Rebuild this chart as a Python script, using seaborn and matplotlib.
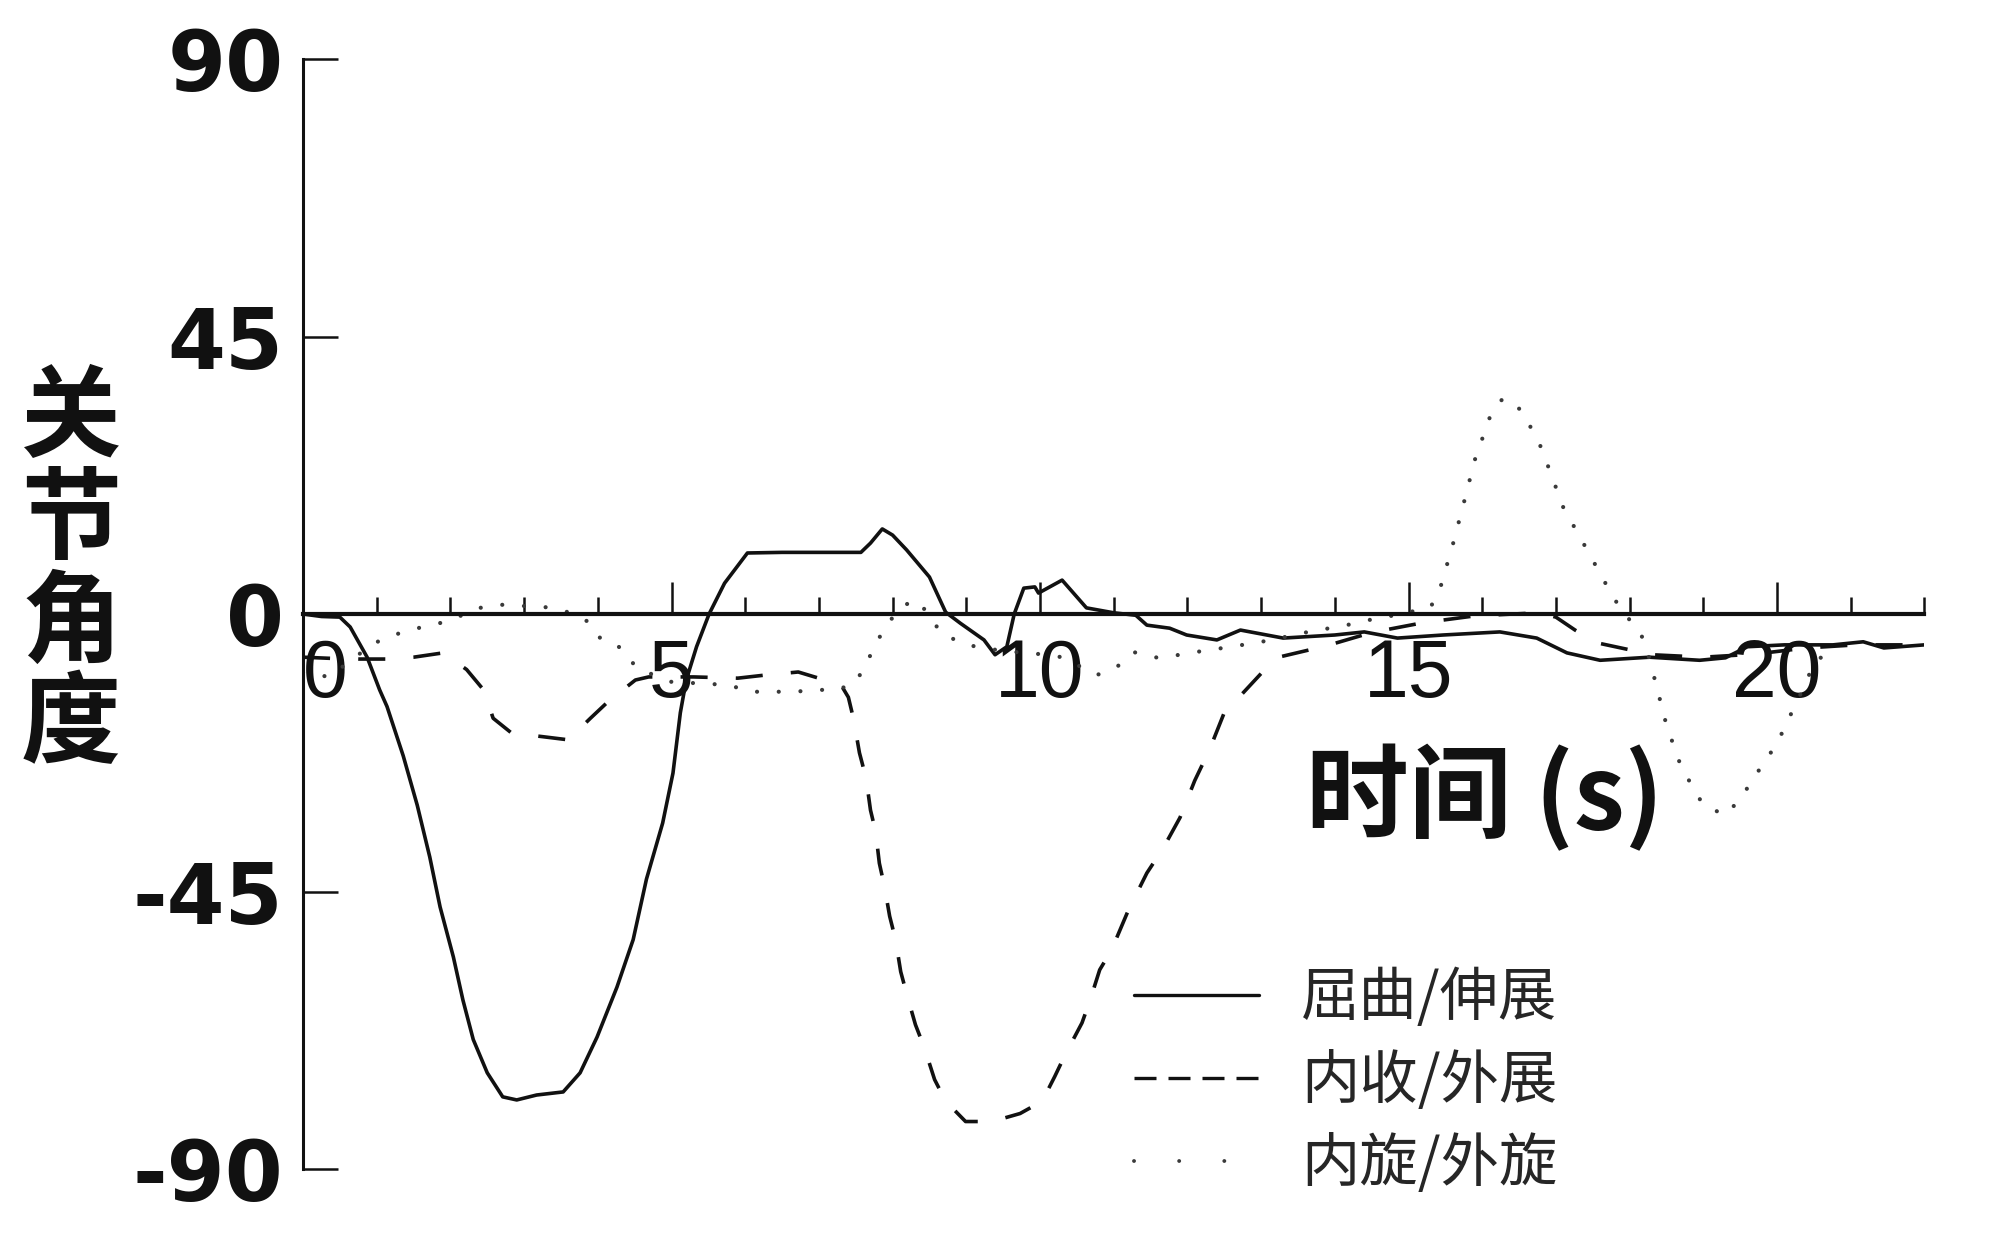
import matplotlib
matplotlib.use("Agg")
import matplotlib.pyplot as plt
from matplotlib.lines import Line2D
import seaborn as sns

# ---------------- data ----------------
series_names = ["屈曲/伸展", "内收/外展", "内旋/外旋"]

flex_t = [0, 0.25, 0.5, 0.64, 0.87, 1.04, 1.14, 1.36, 1.55, 1.72, 1.86, 2.04, 2.17, 2.31,
          2.5, 2.71, 2.9, 3.17, 3.53, 3.76, 3.99, 4.26, 4.48, 4.66, 4.88, 5.02, 5.12, 5.2,
          5.34, 5.51, 5.72, 6.03, 6.5, 7.0, 7.57, 7.7, 7.86, 8.0, 8.19, 8.5, 8.72, 8.92,
          9.24, 9.39, 9.55, 9.65, 9.78, 9.93, 9.98, 10.3, 10.63, 11.0, 11.3, 11.45, 11.76,
          11.99, 12.4, 12.72, 13.3, 14.0, 14.4, 14.85, 15.47, 16.24, 16.74, 17.15, 17.6,
          18.27, 18.95, 19.3, 19.6, 20.1, 20.76, 21.17, 21.45, 22.0]
flex_v = [0, -0.4, -0.5, -2.1, -7, -12.3, -15, -23, -31, -39.4, -47.5, -55.6, -62.6, -69,
          -74.4, -78.3, -78.8, -78, -77.5, -74.4, -68.6, -60.5, -52.8, -43, -33.9, -25.8,
          -16, -10.7, -5.3, 0, 5, 9.9, 10, 10, 10, 11.5, 13.8, 12.8, 10.4, 6, 0.3, -1.5,
          -4.2, -6.6, -5.3, 0, 4.2, 4.4, 3.4, 5.5, 1.0, 0.2, -0.2, -1.8, -2.3, -3.4, -4.2,
          -2.6, -3.9, -3.4, -2.9, -3.9, -3.4, -2.9, -3.9, -6.3, -7.5, -7, -7.5, -7.1, -5.3,
          -5, -5, -4.5, -5.5, -5]

abd_t = [0, 0.4, 0.75, 1.13, 1.5, 1.9, 2.22, 2.45, 2.58, 2.83, 3.26, 3.6, 3.9, 4.14, 4.51,
         4.69, 5.3, 5.9, 6.27, 6.72, 7.08, 7.3, 7.4, 7.47, 7.55, 7.64, 7.7, 7.77, 7.82, 7.89,
         7.96, 8.04, 8.11, 8.2, 8.31, 8.43, 8.57, 8.72, 8.99, 9.35, 9.73, 10.03, 10.2, 10.34,
         10.57, 10.68, 10.81, 10.97, 11.2, 11.45, 11.67, 11.9, 12.1, 12.3, 12.5, 12.7, 12.98,
         13.2, 13.66, 13.93, 14.5, 15.2, 15.9, 16.76, 17.0, 17.26, 17.57, 18.0, 18.3, 19.0,
         19.7, 20.4, 21.07, 22.0]
abd_v = [-7, -7.2, -7.3, -7.3, -7, -6.3, -9, -12.3, -16.9, -19.3, -19.9, -20.4, -16.9, -14.2,
         -10.7, -10.2, -10.2, -10.4, -9.9, -9.4, -10.7, -11.5, -13.5, -17, -22.5, -26.6,
         -31.8, -35.3, -40.4, -44.2, -49, -52.8, -58, -62, -66.6, -70.3, -75.5, -79, -82.3,
         -82.3, -81, -79, -75, -71.5, -66.3, -62.6, -57.7, -54.5, -48, -42, -38, -33, -27,
         -22, -16, -13.5, -9.9, -7.1, -5.8, -5, -3, -1.4, -0.3, 0.2, -0.5, -2.6, -4.7, -5.8,
         -6.6, -7, -6.5, -5.5, -5, -5]

rot_t = [0, 0.36, 0.7, 1.01, 1.31, 1.62, 1.92, 2.2, 2.4, 2.7, 3.3, 3.6, 3.88, 4.05, 4.32,
         4.53, 5.0, 5.77, 6.08, 6.38, 6.68, 6.94, 7.21, 7.46, 7.62, 7.73, 7.89, 8.1, 8.3, 8.5,
         8.65, 9.0, 9.5, 10.0, 10.3, 10.77, 11.04, 11.28, 11.6, 11.9, 12.2, 12.6, 13.1, 13.6,
         14.16, 14.45, 14.9, 15.3, 15.43, 15.6, 15.75, 15.9, 16.1, 16.28, 16.54, 16.8, 17.1,
         17.4, 17.7, 17.8, 18.2, 18.35, 18.5, 18.7, 19.0, 19.3, 19.5, 19.8, 20.0, 20.13, 20.4,
         20.5, 20.8]
rot_v = [-9.5, -10.2, -7, -4.5, -3.1, -2.1, -1.3, 0, 1, 1.5, 1.1, 0.3, -1.3, -4.2, -5.5,
         -8.8, -11, -11.5, -12.6, -12.6, -12.6, -12.3, -12.3, -11.5, -8.8, -5.8, -2.3, 1, 2.3,
         0, -3.1, -5, -6, -6.5, -7, -9.9, -8.6, -6.2, -7.1, -6.6, -6, -5.3, -4.3, -3, -1.8,
         -1, 0, 1.1, 4.2, 11.2, 18, 25, 31.8, 35, 33, 27, 17.3, 10.9, 4.4, 2.3, -4.2, -11,
         -18, -24.8, -31, -32.6, -30, -24.5, -21, -17.7, -11, -7.8, -5.5]

x_ticks = [0, 5, 10, 15, 20]
x_ticklabels = ["0", "5", "10", "15", "20"]
y_ticks = [-90, -45, 0, 45, 90]
y_ticklabels = ["-90", "-45", "0", "45", "90"]
x_label = "时间 (s)"
y_label = "关节角度"

# ---------------- style ----------------
sns.set_style("white")
plt.rcParams["font.family"] = ["Noto Sans CJK SC", "DejaVu Sans"]
ink = "#111111"
dot_ink = "#3a3a3a"

fig = plt.figure(figsize=(20, 12.33), dpi=100)
ax = fig.add_axes([0.1515, 0.0519, 0.8107, 0.9002])

sns.lineplot(x=flex_t, y=flex_v, ax=ax, color=ink, lw=2.6, sort=False,
             estimator=None, errorbar=None)
sns.lineplot(x=abd_t, y=abd_v, ax=ax, color=ink, lw=2.6, sort=False,
             estimator=None, errorbar=None, linestyle=(0, (7.5, 7.8)))
sns.lineplot(x=rot_t, y=rot_v, ax=ax, color=dot_ink, lw=3.0, sort=False,
             estimator=None, errorbar=None, linestyle=(0, (0.01, 5.2)),
             dash_capstyle="round")

ax.set_xlim(0, 22)
ax.set_ylim(-90, 90)
for s in ["top", "right"]:
    ax.spines[s].set_visible(False)
ax.spines["bottom"].set_position(("data", 0))
ax.spines["bottom"].set_linewidth(3.0)
ax.spines["left"].set_linewidth(2.2)
ax.spines["bottom"].set_color(ink)
ax.spines["left"].set_color(ink)

ax.set_xticks(x_ticks)
ax.set_xticks(list(range(0, 23)), minor=True)
ax.set_xticklabels(x_ticklabels, fontfamily=["Liberation Sans", "DejaVu Sans"],
                   fontsize=58, color=ink)
ax.tick_params(axis="x", which="major", bottom=True, direction="in", length=23,
               width=1.8, pad=17, color=ink)
ax.tick_params(axis="x", which="minor", bottom=True, direction="in", length=12,
               width=1.8, color=ink)
ax.get_xticklabels()[0].set_horizontalalignment("left")

ax.set_yticks(y_ticks)
ax.set_yticklabels(y_ticklabels, fontfamily="DejaVu Sans", fontweight="bold",
                   fontsize=60, color=ink)
ax.tick_params(axis="y", which="major", left=True, direction="in", length=25,
               width=1.8, pad=14, color=ink)
ax.tick_params(axis="y", which="minor", left=False)

# y label: characters stacked vertically
for i, ch in enumerate(y_label):
    fig.text(71 / 2000, 1 - (420 + i * 102) / 1233, ch, fontsize=72,
             fontweight="bold", ha="center", va="center", color=ink)

fig.text(0.7425, 0.352, x_label, fontsize=74, fontweight="bold",
         ha="center", va="center", color=ink)

handles = [
    Line2D([], [], color=ink, lw=2.4),
    Line2D([], [], color=ink, lw=2.4, linestyle=(0, (6.6, 3.6))),
    Line2D([], [], color=dot_ink, lw=2.8, linestyle=(0, (0.01, 11.6)),
           dash_capstyle="round"),
]
ax.legend(handles, series_names, loc="upper left",
          bbox_to_anchor=(1134 / 2000, 1 - 968 / 1233), bbox_transform=fig.transFigure,
          frameon=False,
          prop={"family": ["Noto Sans CJK SC"], "size": 42, "weight": "medium"},
          handlelength=2.15, handletextpad=0.72, labelspacing=0.38,
          borderpad=0, borderaxespad=0)

fig.savefig("out.png", dpi=100)
